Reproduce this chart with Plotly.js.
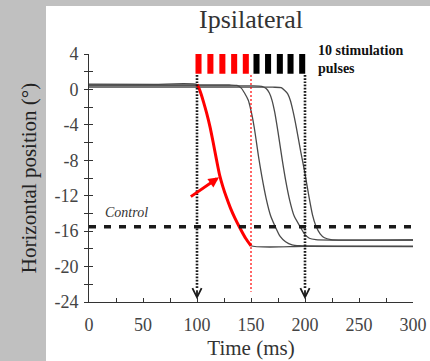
<!DOCTYPE html>
<html>
<head>
<meta charset="utf-8">
<script src="https://cdn.plot.ly/plotly-3.0.1.min.js"></script>
<style>html,body{margin:0;padding:0;background:#c0c0c0;}#chart{width:430px;height:361px;}</style>
</head>
<body>
<div id="chart"></div>
<script>
// ---- Data ----
// Intracranial-stimulation trial (red part between 100 and 150 ms)
const intraTime = [0, 60, 100, 102, 104, 106, 109, 112, 115, 118, 121, 124, 127, 131, 135, 140, 145, 150, 200, 300];
const intraPos  = [0.6, 0.58, 0.55, 0.1, -0.6, -1.4, -2.7, -4.2, -6.0, -7.9, -9.7, -11.0, -12.1, -13.4, -14.5, -15.7, -16.8, -17.65, -17.72, -17.75];

// Other saccade trials (gray)
const trialATime = [0, 130, 137, 141, 144, 147.4, 150, 153, 157, 160, 164, 168, 172.5, 177, 182, 188, 195, 300];
const trialAPos  = [0.5, 0.5, 0.45, 0.15, -0.4, -1.2, -2.4, -4.3, -7.6, -9.8, -12.3, -14.2, -15.5, -16.6, -17.2, -17.55, -17.65, -17.7];

const trialBTime = [0, 150, 160, 164, 167, 169.4, 172, 175, 179, 182, 186, 190, 196, 200, 204, 210, 300];
const trialBPos  = [0.4, 0.4, 0.35, 0.1, -0.4, -1.2, -2.6, -4.8, -8.0, -10.2, -12.6, -14.3, -15.6, -16.4, -16.8, -16.95, -17.0];

const trialCTime = [0, 170, 178, 181, 184, 186.3, 189, 192, 196, 200, 203.5, 207, 210, 214, 218, 224, 300];
const trialCPos  = [0.25, 0.25, 0.2, -0.1, -0.5, -1.2, -2.5, -4.3, -7.0, -9.5, -12.0, -14.2, -15.4, -16.3, -16.75, -16.95, -17.0];

// Control level
const controlTime = [0, 303];
const controlPos  = [-15.5, -15.5];

// Stimulation pulses (10)
const pulseCenters = [101.4, 112.4, 123.5, 134.4, 145.2, 155.1, 165.8, 176.7, 186.6, 197.4];
const pulseBase    = [1.77, 1.77, 1.77, 1.77, 1.77, 1.77, 1.77, 1.77, 1.77, 1.77];
const pulseHeight  = [2.71, 2.71, 2.71, 2.71, 2.71, 2.71, 2.71, 2.71, 2.71, 2.71];
const pulseGroup   = ['intra','intra','intra','intra','intra','stim','stim','stim','stim','stim'];

// Markers of stimulation onset / offset
const markerTimes = [100, 200];
const markerTop = 1.63;
const markerBottom = -22.5;
const markerTip = -23.7;
const intraEndTime = 150;
const intraEndBottom = -22.85;

// Tick labels
const xTickVals = [0, 50, 100, 150, 200, 250, 300];
const xTickText = ['0', '50', '100', '150', '200', '250', '300'];
const yTickVals = [4, 0, -4, -8, -12, -16, -20, -24];
const yTickText = ['4', '0', '-4', '-8', '-12', '-16', '-20', '-24'];

// ---- Build traces ----
const serif = 'Liberation Serif, Times New Roman, serif';
const gray = '#4a4a4a';
const traces = [];

[[trialATime, trialAPos], [trialBTime, trialBPos], [trialCTime, trialCPos], [intraTime, intraPos]].forEach(function(d){
  traces.push({x: d[0], y: d[1], type: 'scatter', mode: 'lines',
    line: {color: gray, width: 1.3, shape: 'spline', smoothing: 0.6}, hoverinfo: 'skip', showlegend: false});
});

// red segment of intra trial
const redX = [], redY = [];
intraTime.forEach(function(t, i){ if (t >= 100 && t <= 150) { redX.push(t); redY.push(intraPos[i]); } });
traces.push({x: redX, y: redY, type: 'scatter', mode: 'lines',
  line: {color: '#ff0000', width: 3, shape: 'spline', smoothing: 0.6}, showlegend: false});

// control dashed
traces.push({x: controlTime, y: controlPos, type: 'scatter', mode: 'lines', cliponaxis: false,
  line: {color: '#1a1a1a', width: 3.5, dash: '7px,8px'}, showlegend: false});

// vertical dotted markers
markerTimes.forEach(function(t){
  traces.push({x: [t, t], y: [markerTop, markerBottom], type: 'scatter', mode: 'lines', cliponaxis: false,
    line: {color: '#1a1a1a', width: 2.6, dash: '1.7px,1.5px'}, showlegend: false});
});
traces.push({x: [intraEndTime, intraEndTime], y: [markerTop, intraEndBottom], type: 'scatter', mode: 'lines', cliponaxis: false,
  line: {color: '#ff0000', width: 1.2, dash: '2px,2px'}, showlegend: false});

// pulses
traces.push({x: pulseCenters, y: pulseHeight, base: pulseBase, type: 'bar', width: 5.6, cliponaxis: false,
  marker: {color: pulseGroup.map(function(g){ return g === 'intra' ? '#ff0000' : '#000000'; }), line: {width: 0}},
  showlegend: false, hoverinfo: 'skip'});

// y axis crossing ticks (inside part)
traces.push({x: [0], y: [0], yaxis: 'y2', type: 'scatter', mode: 'markers', marker: {opacity: 0}, showlegend: false, hoverinfo: 'skip'});

const annotations = [
  {x: 122.2, y: 5.42, xref: 'x', yref: 'y', text: '<b>INTRA</b>', showarrow: false,
   font: {family: serif, size: 15, color: '#ff0000'}},
  {x: 210.2, y: 3.4, xref: 'x', yref: 'y', xanchor: 'left', align: 'left',
   text: '<b>10 stimulation<br>pulses</b>', showarrow: false, font: {family: serif, size: 14, color: '#111'}},
  {x: 13, y: -13.95, xref: 'x', yref: 'y', xanchor: 'left', text: '<i>Control</i>', showarrow: false,
   font: {family: serif, size: 14, color: '#333'}},
  {x: 120.4, y: -9.92, ax: 92.9, ay: -12.22, xref: 'x', yref: 'y', axref: 'x', ayref: 'y', text: '',
   showarrow: true, arrowhead: 2, arrowsize: 0.7, arrowwidth: 3, arrowcolor: '#ff0000', standoff: 0}
];
markerTimes.forEach(function(t){
  annotations.push({x: t, y: markerTip, ax: t, ay: markerBottom, xref: 'x', yref: 'y', axref: 'x', ayref: 'y', text: '',
    showarrow: true, arrowhead: 5, arrowsize: 1, arrowwidth: 1.8, arrowcolor: '#1a1a1a', standoff: 0});
});

const layout = {
  width: 430, height: 361,
  margin: {l: 89, r: 17, t: 54, b: 59},
  paper_bgcolor: '#c0c0c0',
  plot_bgcolor: 'white',
  showlegend: false,
  title: {text: 'Ipsilateral', font: {family: serif, size: 26, color: '#333'},
          xref: 'paper', x: 0.5, xanchor: 'center', yref: 'container', y: 0.948, yanchor: 'middle'},
  xaxis: {range: [0, 300], tickvals: xTickVals, ticktext: xTickText, ticks: 'inside', ticklen: 4, tickcolor: '#333',
    minor: {dtick: 25, ticks: 'inside', ticklen: 4, tickcolor: '#333'},
    showline: true, linecolor: '#333', linewidth: 1, zeroline: false, showgrid: false,
    tickfont: {family: serif, size: 18, color: '#444'}, ticklabelstandoff: 6, automargin: false,
    title: {text: 'Time (ms)', font: {family: serif, size: 21, color: '#333'}, standoff: 6}},
  yaxis: {range: [-24, 4], tickvals: yTickVals, ticktext: yTickText, ticks: 'outside', ticklen: 4, tickcolor: '#333',
    minor: {dtick: 2, ticks: 'outside', ticklen: 4, tickcolor: '#333'},
    showline: true, linecolor: '#333', linewidth: 1, zeroline: false, showgrid: false,
    tickfont: {family: serif, size: 18, color: '#444'}, ticklabelstandoff: 2, automargin: false,
    title: {text: 'Horizontal position (°)', font: {family: serif, size: 21, color: '#222'}, standoff: 12}},
  yaxis2: {range: [-24, 4], overlaying: 'y', side: 'left', dtick: 2, ticks: 'inside', ticklen: 4, tickcolor: '#333',
    showticklabels: false, showline: false, zeroline: false, showgrid: false},
  shapes: [
    {type: 'rect', xref: 'paper', yref: 'paper', x0: -0.1327, x1: 1.07, y0: -0.3, y1: 1.1935,
     fillcolor: 'white', line: {width: 0}, layer: 'below'}
  ],
  annotations: annotations
};

Plotly.newPlot('chart', traces, layout, {displayModeBar: false, staticPlot: true});
</script>
</body>
</html>
